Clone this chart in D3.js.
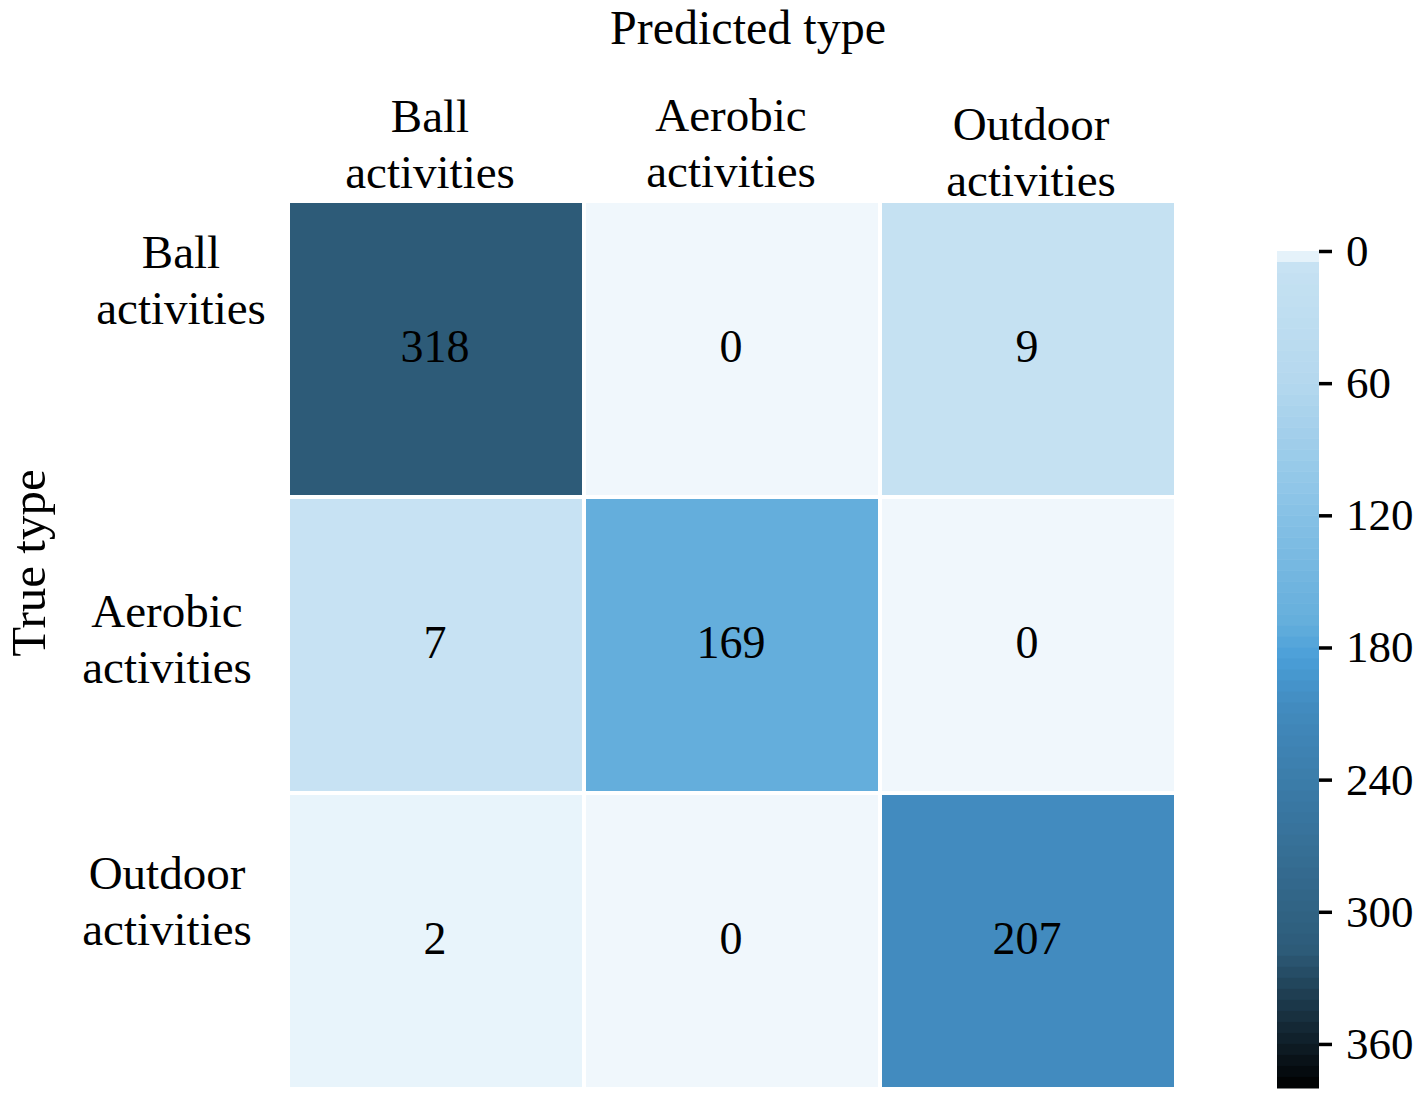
<!DOCTYPE html>
<html>
<head>
<meta charset="utf-8">
<script src="https://cdn.jsdelivr.net/npm/d3@7"></script>
<style>
  body { margin: 0; background: #fff; }
  text { font-family: "Liberation Serif", "Times New Roman", serif; fill: #000; }
</style>
</head>
<body>
<svg id="chart" width="1417" height="1099"></svg>
<script>
// confusion matrix data
const categories = ['Ball activities', 'Aerobic activities', 'Outdoor activities'];
const matrix = [
  [318, 0, 9],
  [7, 169, 0],
  [2, 0, 207]
];
const colorTicks = [0, 60, 120, 180, 240, 300, 360];

// colour map stops (value -> colour)
const cmapValues = [0, 2, 7, 9, 60, 120, 169, 185, 207, 318, 380];
const cmapColors = ['#f0f7fc', '#e8f4fb', '#c7e2f3', '#c5e1f2', '#b4d8ee', '#86c1e6', '#64aedc',
                    '#4a9ed8', '#428bbf', '#2d5b78', '#000000'];

const svg = d3.select('#chart');

var color = d3.scaleLinear()
  .domain(cmapValues)
  .range(cmapColors)
  .interpolate(d3.interpolateRgb)
  .clamp(true);

var x = d3.scaleBand().domain(categories).range([288, 1176]);
var y = d3.scaleBand().domain(categories).range([201, 1089]);

// per-label nudges so the wrapped tick labels sit where the original has them
const colLabelDx = [-6, -1, 3];
const colLabelBase = [132, 131, 140];
const rowLabelX = [181, 167, 167];
const rowLabelDy = [-81, -18, -52];
const LINE = 56;

var cells = [];
matrix.forEach((row, i) => row.forEach((v, j) => {
  cells.push({ t: categories[i], p: categories[j], value: v });
}));

svg.append('g')
  .selectAll('rect')
  .data(cells)
  .enter()
  .append('rect')
  .attr('x', d => x(d.p))
  .attr('y', d => y(d.t))
  .attr('width', x.bandwidth())
  .attr('height', y.bandwidth())
  .attr('fill', d => color(d.value))
  .attr('stroke', '#fff')
  .attr('stroke-width', 4);

svg.append('g')
  .selectAll('text')
  .data(cells)
  .enter()
  .append('text')
  .attr('x', d => x(d.p) + x.bandwidth() / 2 - 1)
  .attr('y', d => y(d.t) + y.bandwidth() / 2)
  .attr('dy', '0.28em')
  .attr('text-anchor', 'middle')
  .style('font-size', '46px')
  .text(d => d.value);

// column labels (predicted)
var colLab = svg.append('g')
  .selectAll('text')
  .data(categories)
  .enter()
  .append('text')
  .attr('text-anchor', 'middle')
  .style('font-size', '47px')
  .attr('transform', (d, i) => `translate(${x(d) + x.bandwidth() / 2 + colLabelDx[i]},${colLabelBase[i]})`);
colLab.selectAll('tspan')
  .data(d => d.split(' '))
  .enter()
  .append('tspan')
  .attr('x', 0)
  .attr('y', (d, i) => i * LINE)
  .text(d => d);

// row labels (true)
var rowLab = svg.append('g')
  .selectAll('text')
  .data(categories)
  .enter()
  .append('text')
  .attr('text-anchor', 'middle')
  .style('font-size', '47px')
  .attr('transform', (d, i) => `translate(${rowLabelX[i]},${y(d) + y.bandwidth() / 2 + rowLabelDy[i]})`);
rowLab.selectAll('tspan')
  .data(d => d.split(' '))
  .enter()
  .append('tspan')
  .attr('x', 0)
  .attr('y', (d, i) => i * LINE)
  .text(d => d);

svg.append('text')
  .attr('x', 748)
  .attr('y', 44)
  .attr('text-anchor', 'middle')
  .style('font-size', '48px')
  .text('Predicted type');

svg.append('text')
  .attr('transform', 'translate(45,563) rotate(-90)')
  .attr('text-anchor', 'middle')
  .style('font-size', '49px')
  .text('True type');

// colour bar
const CB_X = 1277, CB_W = 42;
var cb = d3.scaleLinear().domain([0, 380]).range([251, 1088]);
var steps = d3.range(0, 380, 5);
svg.append('g')
  .selectAll('rect')
  .data(steps)
  .enter()
  .append('rect')
  .attr('x', CB_X)
  .attr('y', d => cb(d))
  .attr('width', CB_W)
  .attr('height', d => cb(Math.min(d + 5, 380)) - cb(d) + 0.5)
  .attr('fill', d => color(d + 2.5));

var cbAxis = svg.append('g')
  .attr('transform', `translate(${CB_X + CB_W},0)`)
  .call(d3.axisRight(cb).tickValues(colorTicks).tickSize(13).tickPadding(14));
cbAxis.select('.domain').remove();
cbAxis.selectAll('line').attr('stroke', '#000').attr('stroke-width', 3.5);
cbAxis.selectAll('text')
  .style('font-family', '"Liberation Serif", "Times New Roman", serif')
  .style('font-size', '45px');
</script>
</body>
</html>
